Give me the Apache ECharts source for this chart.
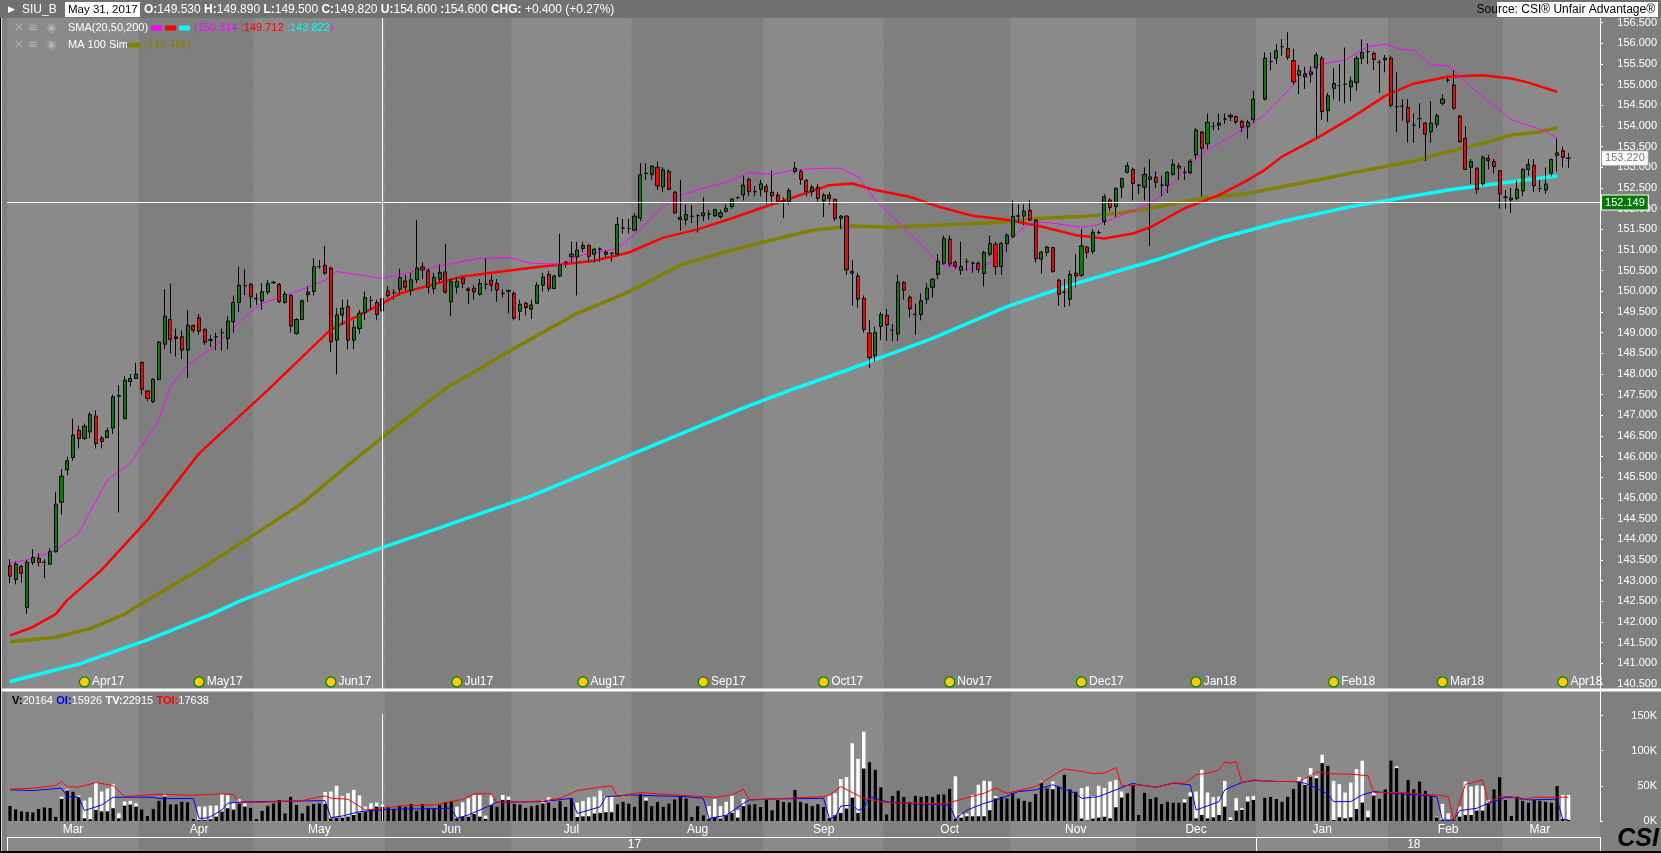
<!DOCTYPE html>
<html>
<head>
<meta charset="utf-8">
<title>SIU_B</title>
<script src="https://cdn.jsdelivr.net/npm/echarts@6.0.0/dist/echarts.min.js"></script>
<style>
  html, body { margin: 0; padding: 0; background: #7f7f7f; }
  #chart { width: 1661px; height: 853px; }
</style>
</head>
<body>
<div id="chart"></div>
<script>
// ---- data (one bar per weekday, 1 Mar 2017 .. 16 Mar 2018) ----
const opens = [
  143.36, 143.03, 143.34, 142.35, 143.44, 143.54, 143.45, 143.40, 143.70, 144.90,
  145.68, 145.98, 146.64, 146.44, 146.60, 146.98, 146.45, 146.46, 146.69, 147.46,
  146.92, 147.82, 147.89, 148.28, 147.59, 147.33, 147.87, 148.72, 149.32, 148.90,
  148.90, 148.58, 149.17, 149.36, 149.08, 148.82, 148.90, 149.00, 148.86, 149.27,
  149.73, 150.13, 150.17, 149.83, 149.77, 149.98, 150.21, 150.17, 149.73, 149.90,
  148.98, 149.32, 149.92, 150.00, 150.60, 150.63, 150.56, 148.82, 149.43, 149.63,
  148.82, 149.10, 149.49, 149.78, 149.73, 149.53, 150.01, 149.97, 150.05, 150.25,
  150.02, 150.28, 150.59, 150.50, 150.07, 150.29, 150.47, 149.75, 150.10, 150.32,
  150.06, 150.08, 149.93, 150.17, 150.27, 150.19, 149.95, 150.00, 149.95, 149.52,
  149.71, 149.57, 149.71, 150.15, 150.41, 150.07, 150.37, 150.70, 150.84, 150.84,
  151.04, 151.11, 150.90, 151.02, 150.90, 150.92, 150.90, 151.53, 151.52, 151.48,
  151.77, 152.85, 152.83, 153.00, 152.53, 152.90, 152.40, 151.74, 151.73, 151.82,
  151.83, 151.83, 151.87, 151.83, 151.81, 151.94, 152.05, 152.27, 152.33, 152.71,
  152.41, 152.47, 152.53, 152.40, 152.33, 152.19, 152.17, 152.90, 152.90, 152.68,
  152.41, 152.52, 152.19, 152.33, 152.23, 151.77, 151.82, 150.44, 150.37, 149.83,
  148.99, 148.45, 149.15, 149.42, 149.06, 148.97, 150.21, 149.86, 149.45, 149.44,
  149.81, 150.10, 150.41, 150.68, 151.26, 150.70, 150.51, 150.72, 150.68, 150.68,
  150.43, 150.90, 151.14, 150.60, 151.15, 151.32, 151.82, 151.82, 151.96, 151.72,
  150.78, 150.94, 151.06, 150.27, 149.98, 149.81, 150.44, 150.39, 151.07, 150.97,
  151.42, 151.69, 152.21, 152.05, 152.52, 152.88, 152.95, 152.57, 152.52, 152.71,
  152.76, 152.57, 152.56, 152.83, 153.03, 152.88, 152.87, 153.30, 153.85, 153.57,
  153.99, 154.02, 154.17, 154.26, 154.23, 154.11, 153.98, 154.16, null, 154.65,
  155.56, 155.64, 155.92, 155.88, 155.58, 155.23, 155.19, 155.24, 155.41, 155.64,
  154.37, 154.91, 154.98, 155.01, 154.95, 155.05, 155.64, 155.80, 155.76, 155.54,
  155.60, 155.64, 154.47, 154.48, 154.45, 154.02, 154.18, 154.07, 153.86, 154.04,
  154.55, 155.11, 154.99, 154.24, 153.70, 153.00, 152.98, 152.60, 153.22, 153.14,
  152.92, 152.28, 152.21, 152.25, 152.43, 152.95, 153.05, 152.49, 152.45, 152.86,
  153.29, 153.40, 153.22
];
const highs = [
  143.52, 143.46, 143.38, 143.50, 143.76, 143.66, 143.52, 143.78, 145.15, 145.70,
  146.00, 146.92, 146.75, 146.80, 147.08, 147.12, 146.50, 146.70, 147.50, 147.73,
  147.95, 148.00, 148.27, 148.30, 147.60, 147.90, 148.80, 150.05, 150.19, 149.10,
  149.05, 149.55, 149.20, 149.45, 149.10, 148.94, 149.00, 149.10, 149.40, 149.90,
  150.60, 150.53, 150.20, 149.95, 150.20, 150.27, 150.25, 150.20, 150.00, 149.93,
  149.35, 149.80, 150.12, 150.80, 150.76, 151.10, 150.60, 149.60, 149.80, 149.80,
  149.30, 149.55, 150.00, 149.89, 149.80, 149.89, 150.13, 150.05, 150.55, 150.40,
  150.45, 151.73, 150.70, 150.55, 150.45, 150.65, 151.15, 150.30, 150.34, 150.35,
  150.10, 150.15, 150.30, 150.80, 150.40, 150.30, 150.05, 150.05, 150.00, 149.80,
  149.75, 149.80, 150.22, 150.45, 150.50, 150.40, 151.39, 150.73, 151.20, 151.20,
  151.20, 151.15, 151.05, 151.06, 151.00, 150.95, 151.80, 151.75, 151.75, 151.90,
  153.10, 153.10, 153.05, 153.14, 153.00, 152.95, 152.42, 152.70, 152.10, 152.09,
  151.87, 152.27, 151.97, 152.00, 151.97, 152.10, 152.26, 152.29, 152.80, 152.75,
  152.55, 152.70, 152.60, 152.92, 152.40, 152.27, 152.50, 153.13, 152.95, 152.72,
  152.58, 152.60, 152.38, 152.40, 152.23, 151.85, 151.85, 150.75, 150.45, 149.90,
  149.30, 149.15, 149.50, 149.57, 149.20, 150.40, 150.25, 149.90, 149.70, 149.95,
  150.20, 150.32, 150.90, 151.35, 151.35, 150.75, 151.20, 150.80, 150.72, 150.72,
  150.98, 151.35, 151.20, 151.20, 151.40, 152.20, 152.10, 152.10, 152.20, 151.75,
  150.98, 151.10, 151.08, 150.30, 150.30, 150.50, 150.90, 151.50, 151.10, 151.50,
  151.48, 152.35, 152.25, 152.52, 152.75, 153.12, 153.00, 152.60, 153.00, 153.20,
  152.90, 152.80, 152.90, 153.20, 153.10, 153.00, 153.20, 153.95, 153.88, 154.30,
  154.10, 154.30, 154.30, 154.30, 154.25, 154.15, 154.15, 154.85, null, 155.78,
  155.78, 155.98, 156.10, 156.27, 155.87, 155.48, 155.43, 155.45, 155.78, 155.70,
  154.80, 155.40, 155.50, 155.90, 155.20, 155.70, 156.10, 156.00, 155.80, 155.60,
  155.72, 155.70, 155.30, 154.65, 154.65, 154.30, 154.55, 154.10, 154.60, 154.30,
  154.77, 155.17, 155.35, 154.27, 154.00, 153.20, 153.00, 153.29, 153.30, 153.20,
  152.93, 152.45, 152.50, 152.69, 152.98, 153.20, 153.20, 152.70, 153.00, 153.21,
  153.70, 153.50, 153.35
];
const lows = [
  142.94, 142.91, 142.95, 142.20, 143.38, 143.34, 143.06, 143.38, 143.68, 144.60,
  145.55, 145.90, 146.20, 146.40, 146.45, 146.20, 146.20, 146.45, 146.55, 144.65,
  146.90, 147.70, 147.88, 147.50, 147.35, 147.30, 147.85, 148.60, 148.50, 148.42,
  148.36, 147.90, 149.00, 148.95, 148.70, 148.66, 148.58, 148.56, 148.60, 149.00,
  149.50, 149.91, 149.60, 149.67, 149.56, 149.92, 150.18, 149.72, 149.70, 149.00,
  148.95, 149.30, 149.75, 149.90, 150.55, 150.40, 148.54, 147.99, 149.20, 148.60,
  148.60, 148.97, 149.30, 149.55, 149.30, 149.50, 149.85, 149.80, 149.90, 150.00,
  149.90, 150.20, 150.30, 149.95, 149.94, 150.20, 149.95, 149.40, 149.95, 150.08,
  149.70, 149.80, 149.90, 150.05, 150.00, 149.75, 149.85, 149.47, 149.30, 149.30,
  149.42, 149.33, 149.70, 150.00, 150.00, 150.05, 150.34, 150.57, 150.70, 149.90,
  150.95, 150.70, 150.70, 150.72, 150.80, 150.72, 150.85, 151.40, 151.40, 151.45,
  151.70, 152.70, 152.70, 152.45, 152.40, 152.45, 151.88, 151.47, 151.60, 151.65,
  151.42, 151.70, 151.73, 151.80, 151.76, 151.90, 152.00, 152.23, 152.20, 152.30,
  152.30, 152.30, 152.10, 152.10, 152.10, 151.77, 152.10, 152.85, 152.58, 152.30,
  152.30, 152.18, 151.80, 152.10, 151.70, 151.50, 150.40, 149.65, 149.60, 149.00,
  148.15, 148.30, 148.82, 148.80, 148.80, 148.80, 149.80, 149.37, 148.95, 149.30,
  149.70, 149.85, 150.30, 150.65, 150.60, 150.55, 150.40, 150.50, 150.45, 150.45,
  150.12, 150.85, 150.40, 150.40, 150.95, 151.30, 151.65, 151.60, 151.70, 150.70,
  150.43, 150.85, 150.45, 149.65, 149.62, 149.65, 150.10, 150.35, 150.80, 150.90,
  151.38, 151.60, 151.95, 151.80, 152.26, 152.85, 152.20, 152.35, 152.20, 151.10,
  152.50, 152.30, 152.38, 152.80, 152.70, 152.70, 152.83, 153.20, 152.30, 153.45,
  153.90, 153.90, 154.05, 154.12, 154.05, 153.85, 153.70, 154.08, null, 154.62,
  155.35, 155.50, 155.70, 155.60, 155.00, 154.77, 154.90, 155.05, 153.70, 154.15,
  154.10, 154.65, 154.60, 154.55, 154.60, 154.85, 155.50, 155.50, 155.35, 154.80,
  155.30, 154.45, 153.85, 154.13, 153.60, 153.60, 153.95, 153.15, 153.60, 153.96,
  154.50, 155.05, 154.40, 153.60, 152.95, 152.60, 152.35, 152.55, 152.95, 152.85,
  152.00, 152.00, 151.90, 152.20, 152.30, 152.80, 152.40, 152.40, 152.36, 152.78,
  152.90, 153.00, 152.99
];
const closes = [
  143.11, 143.40, 143.18, 143.45, 143.56, 143.44, 143.44, 143.71, 144.85, 145.53,
  145.90, 146.52, 146.44, 146.74, 147.02, 146.32, 146.37, 146.63, 147.45, 147.48,
  147.85, 147.89, 148.00, 147.63, 147.41, 147.87, 148.77, 149.40, 148.84, 148.86,
  148.58, 149.18, 149.06, 149.04, 148.77, 148.83, 148.90, 149.00, 149.28, 149.73,
  150.15, 150.14, 149.87, 149.82, 149.99, 150.19, 150.22, 149.75, 149.93, 149.16,
  149.32, 149.77, 149.98, 150.60, 150.60, 150.44, 148.78, 149.43, 149.59, 148.82,
  149.13, 149.47, 149.85, 149.78, 149.44, 149.82, 149.90, 149.97, 150.33, 150.10,
  150.28, 150.56, 150.52, 150.10, 150.34, 150.46, 149.98, 150.23, 150.24, 150.19,
  150.02, 149.99, 150.19, 150.17, 150.15, 150.03, 149.95, 150.02, 149.35, 149.69,
  149.61, 149.67, 150.15, 150.35, 150.07, 150.37, 150.65, 150.70, 150.90, 151.00,
  151.11, 150.85, 151.02, 151.02, 150.95, 150.92, 151.62, 151.53, 151.52, 151.82,
  152.82, 152.86, 153.03, 152.55, 152.94, 152.47, 151.90, 151.79, 151.86, 151.81,
  151.83, 151.90, 151.87, 151.98, 151.90, 152.01, 152.23, 152.27, 152.57, 152.41,
  152.41, 152.60, 152.41, 152.31, 152.17, 152.19, 152.44, 152.98, 152.71, 152.41,
  152.52, 152.25, 152.33, 152.25, 151.77, 151.82, 150.52, 150.48, 149.81, 149.08,
  148.40, 149.00, 149.44, 149.19, 149.06, 150.22, 150.03, 149.58, 149.44, 149.77,
  150.08, 150.29, 150.73, 151.28, 150.66, 150.61, 150.60, 150.72, 150.68, 150.53,
  150.94, 151.16, 150.60, 151.16, 151.36, 151.82, 151.83, 151.94, 151.73, 150.79,
  150.95, 151.07, 150.48, 149.93, 149.98, 150.41, 150.37, 151.10, 150.94, 151.43,
  151.42, 152.29, 152.03, 152.49, 152.73, 153.04, 152.61, 152.56, 152.83, 152.77,
  152.64, 152.57, 152.88, 153.07, 152.98, 152.88, 153.15, 153.90, 153.46, 154.09,
  153.99, 154.07, 154.17, 154.22, 154.10, 153.97, 154.09, 154.65, null, 155.64,
  155.56, 155.82, 155.92, 155.66, 155.07, 155.34, 155.26, 155.31, 155.72, 154.35,
  154.73, 155.03, 154.98, 155.01, 155.09, 155.64, 155.78, 155.80, 155.61, 155.54,
  155.64, 154.50, 154.47, 154.48, 154.10, 154.02, 154.18, 153.80, 154.07, 154.25,
  154.65, 155.11, 154.43, 153.62, 152.95, 153.14, 152.47, 153.24, 153.16, 153.02,
  152.36, 152.28, 152.26, 152.47, 152.95, 153.07, 152.56, 152.49, 152.60, 153.19,
  153.35, 153.24, 153.22
];

// moving averages, read as [bar index, value]
const sma20Points = [
  [0, 143.42], [4, 143.54], [8, 143.74], [12, 144.15], [17, 145.44], [21, 145.84], [26, 146.89],
  [28, 147.69], [31, 148.22], [36, 148.7], [41, 149.39], [44, 149.71], [50, 149.99], [55, 150.27],
  [57, 150.48], [61, 150.4], [65, 150.31], [73, 150.56], [82, 150.8], [87, 150.82], [91, 150.68],
  [96, 150.66], [100, 150.88], [106, 151.04], [110, 151.5], [114, 152.05], [117, 152.33],
  [120, 152.45], [126, 152.69], [129, 152.87], [133, 152.83], [137, 152.94], [142, 152.98],
  [145, 152.98], [148, 152.77], [151, 152.21], [154, 151.81], [157, 151.4], [160, 151.0],
  [162, 150.68], [167, 150.52], [170, 150.62], [172, 150.76], [175, 151.32], [178, 151.65],
  [181, 151.67], [184, 151.61], [187, 151.55], [190, 151.62], [195, 151.89], [199, 152.13],
  [201, 152.33], [202, 152.49], [208, 153.34], [214, 153.82], [219, 154.27], [222, 154.71],
  [225, 155.15], [228, 155.48], [233, 155.6], [237, 155.92], [240, 155.98], [243, 155.85],
  [245, 155.84], [248, 155.48], [251, 155.46], [254, 155.07], [257, 154.71], [260, 154.39],
  [262, 154.15], [265, 154.02], [268, 153.88], [270, 153.7]
];
const sma50Points = [
  [0, 141.67], [4, 141.88], [8, 142.19], [10, 142.53], [16, 143.26], [24, 144.47], [33, 146.08],
  [45, 147.61], [56, 149.08], [65, 149.71], [68, 149.95], [79, 150.36], [91, 150.57], [102, 150.74],
  [108, 150.94], [114, 151.3], [120, 151.5], [126, 151.77], [131, 152.01], [137, 152.29],
  [143, 152.57], [147, 152.61], [151, 152.45], [157, 152.29], [162, 152.05], [168, 151.83],
  [174, 151.73], [180, 151.57], [186, 151.36], [191, 151.28], [196, 151.4], [199, 151.55],
  [205, 152.01], [211, 152.33], [216, 152.69], [219, 152.94], [222, 153.26], [228, 153.7],
  [234, 154.19], [240, 154.73], [245, 155.03], [251, 155.19], [257, 155.23], [262, 155.15],
  [265, 155.05], [270, 154.83]
];
const sma200Points = [
  [0, 140.56], [12, 140.98], [24, 141.57], [35, 142.18], [40, 142.5], [52, 143.15], [65, 143.8],
  [91, 145.05], [128, 147.18], [137, 147.65], [147, 148.14], [161, 148.86], [174, 149.63],
  [185, 150.15], [201, 150.8], [211, 151.28], [222, 151.69], [234, 152.05], [251, 152.45],
  [262, 152.65], [270, 152.79]
];
const ma100Points = [
  [0, 141.52], [8, 141.63], [14, 141.84], [20, 142.19], [24, 142.53], [33, 143.26], [43, 144.15],
  [51, 144.87], [58, 145.68], [65, 146.47], [76, 147.65], [88, 148.62], [99, 149.47], [108, 149.99],
  [117, 150.64], [126, 151.0], [134, 151.28], [140, 151.48], [147, 151.58], [154, 151.55],
  [162, 151.6], [171, 151.66], [180, 151.77], [188, 151.82], [194, 151.9], [199, 152.01],
  [208, 152.25], [216, 152.37], [222, 152.53], [228, 152.69], [234, 152.86], [240, 153.02],
  [245, 153.15], [251, 153.38], [257, 153.58], [262, 153.78], [267, 153.86], [270, 153.96]
];

// volume panel, thousands of contracts
const volume = [
  21.4, 16.7, 13.8, 12.9, 12.4, 17.1, 19.5, 18.6, 6.2, 31.4,
  43.3, 41.9, 33.8, 3.8, 2.4, 15.7, 13.8, 13.8, 18.1, 3.8,
  21.9, 23.3, 20.5, 16.7, 7.1, 17.1, 29.0, 34.7, 23.8, 23.8,
  27.6, 26.7, 2.9, 1.4, 1.4, 2.4, 6.2, 13.3, 18.1, 16.2,
  25.2, 20.5, 19.0, 2.9, 14.3, 21.9, 25.2, 30.0, 11.0, 34.7,
  22.8, 11.0, 21.9, 24.3, 25.2, 24.3, 3.8, 4.8, 4.8, 6.2,
  8.6, 11.9, 13.3, 15.7, 20.5, 20.2, 20.5, 17.6, 21.4, 20.5,
  24.3, 14.8, 24.3, 18.1, 18.1, 23.3, 27.1, 28.1, 3.8, 6.2,
  6.2, 10.0, 6.2, 2.9, 22.8, 20.5, 30.0, 30.0, 24.5, 23.6,
  18.8, 21.2, 22.6, 25.0, 26.5, 18.8, 28.4, 20.2, 32.2, 5.8,
  6.7, 6.7, 10.6, 11.5, 12.5, 12.5, 24.0, 27.4, 25.0, 20.2,
  38.5, 28.9, 21.2, 27.4, 20.2, 25.0, 30.8, 36.1, 32.2, 5.8,
  21.2, 8.2, 3.4, 5.8, 3.4, 8.2, 11.5, 4.8, 21.2, 23.6,
  24.0, 20.2, 30.8, 15.4, 29.8, 27.4, 26.5, 44.3, 27.4, 25.0,
  21.2, 24.0, 20.2, 4.3, 8.2, 11.5, 17.8, 33.2, 11.5, 74.6,
  83.7, 73.1, 48.1, 9.6, 35.6, 43.3, 34.6, 27.4, 36.1, 34.6,
  35.6, 34.6, 38.0, 38.0, 45.7, 3.4, 4.8, 6.7, 6.7, 6.7,
  6.7, 15.4, 32.2, 34.6, 32.2, 40.4, 32.2, 28.9, 27.4, 38.5,
  54.8, 46.7, 45.2, 49.0, 65.9, 45.2, 41.8, 3.4, 1.0, 3.4,
  4.8, 6.0, 3.8, 19.5, 33.3, 39.5, 51.4, 8.6, 40.5, 31.4,
  33.8, 24.3, 27.6, 26.2, 26.2, 26.2, 34.7, 3.8, 8.6, 3.8,
  5.2, 8.6, 20.5, 1.4, 14.8, 15.7, 27.6, 30.0, null, 33.3,
  34.3, 31.4, 27.6, 34.7, 45.7, 56.2, 51.4, 63.3, 60.9, 82.3,
  78.5, 1.4, 5.2, 3.8, 5.2, 17.1, 26.2, 5.2, 36.2, 31.9,
  45.2, 86.2, 75.2, 40.5, 58.5, 45.2, 56.2, 43.3, 35.7, 5.2,
  1.4, 1.4, 1.4, 6.2, 8.6, 8.6, 14.8, 14.8, 25.2, 45.2,
  62.4, 30.0, 7.1, 34.7, 28.6, 26.2, 30.0, 29.0, 27.6, 26.2,
  50.0, 2.9, 1.4
];
const totalVolume = [
  21.4, 16.7, 13.8, 12.9, 12.4, 17.1, 19.5, 18.6, 6.2, 34.7,
  45.0, 41.9, 36.2, 29.0, 33.3, 55.2, 41.9, 46.2, 52.8, 11.0,
  27.6, 28.6, 25.2, 16.7, 7.1, 17.1, 29.0, 38.6, 23.8, 23.8,
  27.6, 26.7, 2.9, 20.5, 20.5, 21.9, 21.9, 38.6, 36.7, 26.2,
  30.9, 25.2, 19.0, 2.9, 14.3, 21.9, 25.2, 30.0, 11.0, 34.7,
  22.8, 11.0, 21.9, 24.3, 25.2, 41.4, 41.9, 50.0, 35.7, 39.5,
  44.3, 36.2, 20.5, 25.2, 26.2, 22.9, 20.5, 17.6, 21.4, 20.5,
  24.3, 14.8, 24.3, 18.1, 18.1, 23.3, 27.1, 28.1, 20.5, 26.7,
  32.4, 37.1, 37.1, 7.6, 36.7, 20.5, 37.1, 34.6, 24.5, 23.6,
  18.8, 21.2, 22.6, 29.8, 33.7, 18.8, 28.4, 20.2, 32.2, 26.0,
  28.4, 33.7, 34.6, 43.3, 34.6, 34.6, 24.0, 27.4, 25.0, 20.2,
  38.5, 33.2, 21.2, 27.4, 20.2, 25.0, 30.8, 36.1, 32.2, 5.8,
  21.2, 8.2, 21.2, 31.3, 21.2, 27.4, 36.1, 15.4, 31.3, 23.6,
  24.0, 20.2, 30.8, 15.4, 29.8, 27.4, 26.5, 44.3, 27.4, 25.0,
  21.2, 24.0, 20.2, 36.1, 39.4, 59.6, 62.5, 110.6, 88.5, 127.0,
  83.7, 73.1, 48.1, 9.6, 35.6, 43.3, 34.6, 27.4, 36.1, 34.6,
  35.6, 34.6, 38.0, 38.0, 45.7, 63.5, 10.6, 10.6, 37.0, 51.5,
  57.2, 56.3, 35.6, 34.6, 32.2, 40.4, 32.2, 28.9, 27.4, 38.5,
  56.2, 46.7, 56.3, 49.0, 65.9, 45.2, 41.8, 46.7, 49.0, 35.6,
  50.0, 47.0, 56.2, 58.5, 41.9, 39.5, 51.4, 8.6, 40.5, 31.4,
  33.8, 24.3, 27.6, 26.2, 26.2, 30.9, 40.9, 41.9, 72.8, 40.5,
  33.8, 34.7, 57.1, 5.2, 32.4, 18.1, 34.7, 35.7, null, 33.3,
  34.3, 31.4, 27.6, 34.7, 45.7, 62.4, 60.9, 75.2, 64.3, 94.2,
  78.5, 57.1, 52.4, 40.5, 54.7, 73.8, 85.7, 14.8, 41.9, 31.9,
  45.2, 86.2, 77.6, 40.5, 58.5, 45.2, 56.2, 43.3, 35.7, 6.2,
  24.3, 11.0, 1.4, 20.5, 56.2, 49.0, 50.5, 50.0, 30.0, 45.2,
  62.4, 30.0, 7.1, 34.7, 28.6, 26.2, 30.0, 29.0, 27.6, 26.2,
  50.0, 37.1, 37.1
];
const openInterestPoints = [
  [0, 44.3], [4, 43.3], [9, 46.7], [10, 34.7], [12, 33.8], [13, 14.8], [16, 22.8], [18, 33.8],
  [25, 33.8], [26, 31.9], [32, 31.9], [33, 3.8], [34, 3.8], [35, 6.2], [37, 15.7], [38, 25.2],
  [40, 26.7], [44, 27.6], [55, 29.0], [56, 4.8], [58, 7.1], [61, 13.3], [65, 15.9], [68, 16.7],
  [77, 18.1], [78, 3.8], [80, 8.6], [82, 15.7], [84, 22.8], [85, 26.7], [93, 27.4], [98, 32.2],
  [99, 10.6], [103, 20.2], [104, 34.6], [108, 37.0], [118, 34.6], [121, 32.2], [122, 3.4],
  [125, 8.2], [128, 25.0], [129, 29.8], [132, 31.3], [142, 32.2], [143, 3.4], [144, 5.8],
  [145, 21.2], [147, 22.6], [148, 15.4], [149, 17.8], [150, 34.6], [153, 27.4], [156, 25.0],
  [160, 24.0], [164, 22.6], [165, 3.4], [167, 15.4], [170, 25.0], [173, 32.2], [176, 41.8],
  [179, 44.3], [182, 51.5], [184, 45.2], [186, 39.4], [187, 32.2], [190, 34.7], [193, 44.3],
  [196, 53.8], [197, 51.4], [200, 48.1], [203, 53.8], [206, 51.4], [207, 15.7], [209, 21.4],
  [211, 27.6], [212, 44.3], [214, 51.4], [215, 54.7], [217, 57.6], [221, 56.2], [224, 56.2],
  [226, 53.8], [228, 46.7], [230, 38.6], [231, 27.6], [234, 27.6], [236, 37.1], [238, 41.9],
  [240, 40.5], [243, 38.1], [246, 37.1], [249, 34.7], [250, 1.4], [252, 1.4], [253, 14.8],
  [256, 18.1], [258, 25.2], [261, 33.3], [263, 33.3], [265, 30.0], [270, 31.0], [271, 2.4],
  [272, 1.4]
];
const totalOpenInterestPoints = [
  [0, 45.2], [4, 46.7], [8, 50.5], [9, 56.2], [10, 49.0], [12, 48.1], [15, 54.7], [18, 50.5],
  [20, 34.7], [24, 37.1], [26, 38.1], [32, 36.7], [37, 38.6], [39, 37.6], [40, 26.7], [44, 26.7],
  [51, 29.0], [55, 35.7], [56, 32.4], [59, 30.9], [62, 15.7], [65, 17.6], [68, 21.4], [74, 22.8],
  [79, 30.9], [81, 38.6], [84, 38.6], [85, 26.2], [93, 28.4], [96, 32.2], [99, 43.3], [103, 48.1],
  [105, 50.0], [106, 34.6], [108, 38.0], [110, 40.4], [116, 37.0], [119, 35.6], [123, 33.7],
  [126, 37.0], [128, 45.2], [129, 29.8], [133, 31.3], [142, 34.6], [143, 37.0], [145, 49.0],
  [147, 40.4], [149, 32.2], [153, 26.0], [160, 25.0], [163, 24.0], [166, 30.8], [170, 39.4],
  [172, 46.7], [174, 39.4], [179, 49.0], [182, 64.4], [184, 74.0], [187, 70.7], [189, 67.3],
  [191, 68.0], [193, 76.2], [194, 50.0], [197, 51.4], [200, 48.1], [203, 53.8], [205, 53.8],
  [207, 65.7], [209, 68.0], [211, 72.8], [212, 83.8], [213, 82.3], [214, 84.7], [215, 54.7],
  [217, 58.5], [221, 56.2], [225, 56.2], [228, 69.5], [229, 69.5], [231, 67.1], [234, 66.6],
  [237, 64.3], [238, 40.5], [240, 40.5], [243, 40.5], [246, 38.1], [249, 37.1], [251, 34.7],
  [252, 0.5], [254, 52.4], [255, 53.8], [257, 58.5], [258, 26.2], [260, 34.7], [262, 34.7],
  [264, 30.0], [266, 33.8], [272, 33.8]
];

// contract month markers along the bottom of the price panel
const markerNames = ['Apr17', 'May17', 'Jun17', 'Jul17', 'Aug17', 'Sep17', 'Oct17', 'Nov17', 'Dec17', 'Jan18', 'Feb18', 'Mar18', 'Apr18'];
const markerBars = [13, 33, 56, 78, 100, 121, 142, 164, 187, 207, 231, 250, 271];
const markerLevel = 140.55;

// cursor readout
const cursorBar = 65;
const cursorPrice = 152.149;
const headerExtra = ['154.600', '154.600', '+0.400 (+0.27%)'];
const smaReadout = ['150.314', '149.712', '143.822'];
const ma100Readout = '146.466';
const volumeReadout = ['20164', '15926', '22915', '17638'];

// ---- categories: every weekday, plus a few empty ones after the last bar ----
const MONTHS = ['Jan', 'Feb', 'Mar', 'Apr', 'May', 'Jun', 'Jul', 'Aug', 'Sep', 'Oct', 'Nov', 'Dec'];
const dates = [];
for (let t = Date.UTC(2017, 2, 1); t <= Date.UTC(2018, 2, 23); t += 86400000) {
  const d = new Date(t);
  const wd = d.getUTCDay();
  if (wd !== 0 && wd !== 6) dates.push(d.toISOString().slice(0, 10));
}
const barCount = closes.length;

const monthStarts = new Set();
const monthMids = new Map();
let runStart = 0;
for (let i = 1; i <= dates.length; i++) {
  if (i === dates.length || dates[i].slice(0, 7) !== dates[i - 1].slice(0, 7)) {
    monthStarts.add(runStart);
    const runEnd = Math.min(i - 1, barCount - 1);
    monthMids.set(Math.round((runStart + runEnd) / 2), MONTHS[Number(dates[runStart].slice(5, 7)) - 1]);
    runStart = i;
  }
}
const yearStart = dates.indexOf('2018-01-01');
const yearMids = new Map([
  [Math.round((yearStart - 1) / 2), '17'],
  [Math.round((yearStart + barCount - 1) / 2), '18'],
]);

function fmtDate(iso) {
  const d = new Date(iso + 'T00:00:00Z');
  return MONTHS[d.getUTCMonth()] + ' ' + d.getUTCDate() + ', ' + d.getUTCFullYear();
}

// ---- layout ----
const BAR_STEP = 5.73;
const gridLeft = 7.1;
const gridWidth = dates.length * BAR_STEP;
const FONT = 'Liberation Sans, Arial, sans-serif';
// month shading: March 2017 dark, April light, and so on
const bands = {
  show: true,
  interval: (i) => monthStarts.has(i),
  areaStyle: { color: ['#8a8a8a', '#7f7f7f'] },
};
const dotted = { color: '#d4d4d4', type: [1, 5], width: 1 };

function plainCategory(gridIndex) {
  return {
    type: 'category', gridIndex, data: dates, boundaryGap: true,
    axisLine: { show: false }, axisTick: { show: false }, axisLabel: { show: false },
    splitLine: { show: false }, splitArea: bands,
  };
}

function priceLabel(v) {
  return Math.abs(v * 2 - Math.round(v * 2)) < 1e-6 ? v.toFixed(3) : '';
}

const chart = echarts.init(document.getElementById('chart'), null, { renderer: 'canvas' });

const icon = (x, y, text, size) => ({
  type: 'text', x, y, z: 100,
  style: { text, fill: '#b4b4b4', font: size + 'px DejaVu Sans', verticalAlign: 'middle' },
});
const label = (x, y, text, fill, size, extra) => ({
  type: 'text', x, y, z: 100,
  style: Object.assign({ text, fill, font: size + 'px ' + FONT, verticalAlign: 'middle' }, extra || {}),
});
const box = (x, y, w, h, fill) => ({ type: 'rect', z: 100, shape: { x, y, width: w, height: h }, style: { fill } });

const headerRich = {
  b: { fill: '#fff', font: 'bold 12px ' + FONT },
  v: { fill: '#fff', font: '12px ' + FONT },
};
const f3 = (v) => v.toFixed(3);
const headerText =
  '{b|O:}{v|' + f3(opens[cursorBar]) + '} {b|H:}{v|' + f3(highs[cursorBar]) + '} ' +
  '{b|L:}{v|' + f3(lows[cursorBar]) + '} {b|C:}{v|' + f3(closes[cursorBar]) + '} ' +
  '{b|U:}{v|' + headerExtra[0] + '} {b|:}{v|' + headerExtra[1] + '} {b|CHG:} {v|' + headerExtra[2] + '}';

const legendFont = '11px ' + FONT;

// navy badge with white stripes running through the letters
const navy = '#203a8a';
const badgeFill = new echarts.graphic.LinearGradient(0, 0, 0, 1, [
  { offset: 0, color: navy }, { offset: 0.3, color: navy },
  { offset: 0.3, color: '#ffffff' }, { offset: 0.36, color: '#ffffff' },
  { offset: 0.36, color: navy }, { offset: 0.58, color: navy },
  { offset: 0.58, color: '#ffffff' }, { offset: 0.64, color: '#ffffff' },
  { offset: 0.64, color: navy }, { offset: 1, color: navy },
]);

chart.setOption({
  animation: false,
  backgroundColor: '#7f7f7f',
  textStyle: { fontFamily: FONT },
  grid: [
    { left: gridLeft, top: 17, width: gridWidth, height: 672, outerBoundsMode: 'none' },
    { left: gridLeft, top: 690, width: gridWidth, height: 131, outerBoundsMode: 'none' },
    { left: gridLeft, top: 821, width: gridWidth, height: 30, outerBoundsMode: 'none' },
    { left: gridLeft, top: 821, width: gridWidth, height: 16, outerBoundsMode: 'none' },
  ],
  xAxis: [
    plainCategory(0),
    plainCategory(1),
    {
      type: 'category', gridIndex: 2, data: dates, boundaryGap: true, position: 'top',
      axisLine: { show: true, lineStyle: { color: '#fff', width: 1, type: [3, 1] } },
      axisTick: { show: true, inside: true, length: 16, interval: (i) => monthStarts.has(i), lineStyle: { color: '#fff' } },
      axisLabel: {
        show: true, inside: true, margin: 3, color: '#fff', fontSize: 12,
        interval: (i) => monthMids.has(i),
        formatter: (v, i) => monthMids.get(i) || '',
      },
      splitLine: { show: false }, splitArea: bands,
    },
    {
      type: 'category', gridIndex: 3, data: dates, boundaryGap: true, position: 'bottom',
      axisLine: { show: true, lineStyle: { color: '#fff', width: 1 } },
      axisTick: { show: true, length: 14, interval: (i) => i === 0 || i === yearStart, lineStyle: { color: '#fff' } },
      axisLabel: {
        show: true, margin: 2, color: '#fff', fontSize: 12,
        interval: (i) => yearMids.has(i),
        formatter: (v, i) => yearMids.get(i) || '',
      },
      splitLine: { show: false },
    },
  ],
  yAxis: [
    {
      type: 'value', gridIndex: 0, position: 'right',
      min: 140.379, max: 156.638, splitNumber: 32, minInterval: 0.5, maxInterval: 0.5,
      axisLine: { show: true, lineStyle: { color: '#fff' } },
      axisTick: { show: true, length: 3, lineStyle: { color: '#fff' } },
      axisLabel: { color: '#fff', fontSize: 11, align: 'right', margin: 57, formatter: priceLabel, showMinLabel: false, showMaxLabel: false },
      splitLine: { show: true, lineStyle: dotted },
    },
    {
      type: 'value', gridIndex: 1, position: 'right',
      min: 0, max: 186.3, interval: 50,
      axisLine: { show: true, lineStyle: { color: '#fff' } },
      axisTick: { show: true, length: 3, lineStyle: { color: '#fff' } },
      axisLabel: { color: '#fff', fontSize: 11, align: 'right', margin: 57, showMaxLabel: false, formatter: (v) => (v % 50 === 0 ? v + 'K' : '') },
      splitLine: { show: true, lineStyle: dotted },
    },
    { type: 'value', gridIndex: 2, show: false },
    { type: 'value', gridIndex: 3, show: false },
  ],
  series: [
    {
      name: 'MA 100 Sim', type: 'line', xAxisIndex: 0, yAxisIndex: 0, z: 2,
      data: ma100Points, showSymbol: false, color: '#808000', lineStyle: { color: '#808000', width: 3.5 },
    },
    {
      name: 'SMA 200', type: 'line', xAxisIndex: 0, yAxisIndex: 0, z: 2,
      data: sma200Points, showSymbol: false, color: '#00ffff', lineStyle: { color: '#00ffff', width: 3.5 },
    },
    {
      name: 'SMA 50', type: 'line', xAxisIndex: 0, yAxisIndex: 0, z: 2,
      data: sma50Points, showSymbol: false, color: '#ff0000', lineStyle: { color: '#ff0000', width: 2.5 },
    },
    {
      name: 'SMA 20', type: 'line', xAxisIndex: 0, yAxisIndex: 0, z: 2,
      data: sma20Points, showSymbol: false, color: '#ff00ff', lineStyle: { color: '#ff00ff', width: 1 },
    },
    {
      name: 'SIU_B', type: 'candlestick', xAxisIndex: 0, yAxisIndex: 0, z: 4,
      barWidth: 3.6,
      data: closes.map((c, i) => (c == null ? '-' : [opens[i], c, lows[i], highs[i]])),
      itemStyle: {
        color: '#008000', color0: '#ff0000',
        borderColor: '#000', borderColor0: '#000', borderColorDoji: '#000', borderWidth: 1,
      },
      markLine: {
        silent: true, symbol: 'none', animation: false,
        data: [
          { xAxis: dates[cursorBar], lineStyle: { color: '#fff', width: 1, type: 'solid' }, label: { show: false } },
          {
            yAxis: cursorPrice, lineStyle: { color: '#fff', width: 1, type: 'solid' },
            label: {
              show: true, position: 'end', distance: 2, formatter: cursorPrice.toFixed(3),
              color: '#fff', backgroundColor: '#007800', borderColor: '#fff', borderWidth: 1,
              padding: [2, 3, 1, 3], fontSize: 11,
            },
          },
          {
            yAxis: closes[barCount - 1], lineStyle: { color: 'rgba(0,0,0,0)', width: 1 },
            label: {
              show: true, position: 'end', distance: 2, formatter: closes[barCount - 1].toFixed(3),
              color: '#7a7a7a', backgroundColor: '#fff', borderColor: '#9a9a9a', borderWidth: 1,
              padding: [2, 3, 1, 3], fontSize: 11,
            },
          },
        ],
      },
    },
    {
      name: 'Contract', type: 'scatter', xAxisIndex: 0, yAxisIndex: 0, z: 5,
      data: markerBars.map((b) => [b, markerLevel]),
      symbol: 'circle', symbolSize: 10,
      itemStyle: { color: '#ffcc00', borderColor: '#008000', borderWidth: 1.2, opacity: 1 },
      label: { show: true, position: 'right', distance: 2, color: '#fff', fontSize: 12, formatter: (p) => markerNames[p.dataIndex] },
    },
    {
      name: 'TV', type: 'bar', xAxisIndex: 1, yAxisIndex: 1, z: 2,
      data: totalVolume, barWidth: 3.5, barGap: '-100%', itemStyle: { color: '#fff' },
    },
    {
      name: 'V', type: 'bar', xAxisIndex: 1, yAxisIndex: 1, z: 3,
      data: volume, barWidth: 3.5, barGap: '-100%', itemStyle: { color: '#000' },
      markLine: {
        silent: true, symbol: 'none', animation: false,
        lineStyle: { color: '#fff', width: 1, type: 'solid' }, label: { show: false },
        data: [[{ coord: [dates[cursorBar], 152] }, { coord: [dates[cursorBar], 0] }]],
      },
    },
    {
      name: 'OI', type: 'line', xAxisIndex: 1, yAxisIndex: 1, z: 4,
      data: openInterestPoints, showSymbol: false, color: '#0000ff', lineStyle: { color: '#0000ff', width: 1 },
    },
    {
      name: 'TOI', type: 'line', xAxisIndex: 1, yAxisIndex: 1, z: 4,
      data: totalOpenInterestPoints, showSymbol: false, color: '#ff0000', lineStyle: { color: '#ff0000', width: 1 },
    },
  ],
  graphic: [
    // header strip
    box(0, 0, 1661, 18, '#717171'),
    label(8, 9.5, '▶', '#fff', 9),
    label(22, 9.5, 'SIU_B', '#fff', 12),
    box(65, 2, 75, 15, '#fff'),
    label(68, 10, fmtDate(dates[cursorBar]), '#000', 11.5),
    { type: 'text', x: 144, y: 10, z: 100, style: { text: headerText, rich: headerRich, verticalAlign: 'middle' } },
    box(1497, 2, 161, 15, '#fff'),
    label(1655, 10, 'Source: CSI® Unfair Advantage®', '#000', 12, { align: 'right' }),

    // indicator legend
    icon(14, 28, '×', 12), icon(28, 28, '≡', 12), icon(47, 28, '◉', 11),
    label(68, 28, 'SMA(20,50,200)', '#fff', 11),
    box(151, 25.5, 11, 5, '#ff00ff'), box(165, 25.5, 11, 5, '#ff0000'), box(179, 25.5, 11, 5, '#00ffff'),
    {
      type: 'text', x: 194, y: 28, z: 100,
      style: {
        verticalAlign: 'middle',
        text: '{m|(' + smaReadout[0] + '} {r|:' + smaReadout[1] + '} {c|:' + smaReadout[2] + '}{m|)}',
        rich: {
          m: { fill: '#ff00ff', font: legendFont },
          r: { fill: '#ff0000', font: legendFont },
          c: { fill: '#00ffff', font: legendFont },
        },
      },
    },
    icon(14, 45, '×', 12), icon(28, 45, '≡', 12), icon(47, 45, '◉', 11),
    label(68, 45, 'MA 100 Sim', '#fff', 11),
    box(127, 42.5, 14, 5, '#808000'),
    label(144, 45, '(' + ma100Readout + ')', '#808000', 11),

    // panel separator and frame
    box(0, 688.5, 1661, 3, '#ffffff'),
    box(0, 18, 1, 835, '#000000'),
    box(1, 18, 1, 833, '#d8d8d8'),
    box(0, 851, 1661, 2, '#000000'),

    // volume readout
    {
      type: 'text', x: 12, y: 701, z: 100,
      style: {
        verticalAlign: 'middle',
        text: '{k|V:}{w|' + volumeReadout[0] + '} {o|OI:}{w|' + volumeReadout[1] + '} {t|TV:}{w|' + volumeReadout[2] + '} {r|TOI:}{w|' + volumeReadout[3] + '}',
        rich: {
          k: { fill: '#000', font: 'bold 11px ' + FONT },
          o: { fill: '#0000ff', font: 'bold 11px ' + FONT },
          t: { fill: '#fff', font: 'bold 11px ' + FONT },
          r: { fill: '#ff0000', font: 'bold 11px ' + FONT },
          w: { fill: '#fff', font: '11px ' + FONT },
        },
      },
    },

    // CSI badge
    {
      type: 'text', x: 1638, y: 839, z: 100,
      style: { text: 'CSI', fill: badgeFill, font: 'italic 900 25px ' + FONT, align: 'center', verticalAlign: 'middle' },
    },
  ],
});
</script>
</body>
</html>
